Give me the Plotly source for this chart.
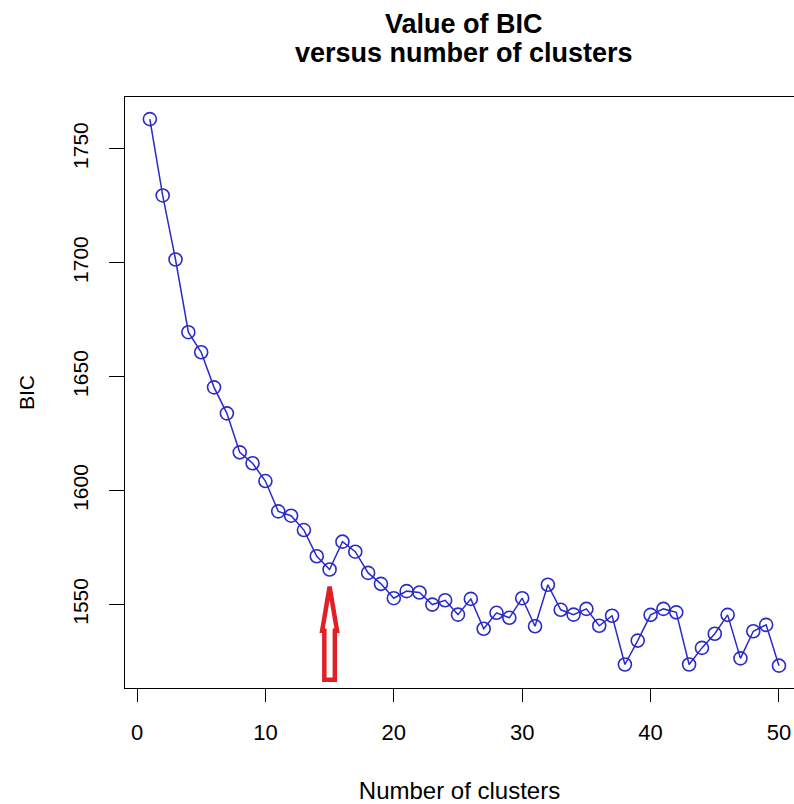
import plotly.graph_objects as go

# ---- data ----
clusters = list(range(1, 51))
bic = [1763.0, 1729.5, 1701.4, 1669.5, 1660.7, 1645.3, 1633.9, 1616.8, 1612.0, 1604.2,
       1590.9, 1589.0, 1582.7, 1571.2, 1565.4, 1577.6, 1573.2, 1563.9, 1559.1, 1552.8,
       1555.9, 1555.3, 1550.0, 1551.9, 1545.6, 1552.5, 1539.4, 1546.4, 1544.2, 1552.8,
       1540.5, 1558.7, 1547.7, 1545.6, 1548.1, 1540.7, 1545.1, 1523.7, 1534.2, 1545.5,
       1548.1, 1546.6, 1523.7, 1531.0, 1537.2, 1545.5, 1526.4, 1538.3, 1541.1, 1523.2]
x_ticks = [0, 10, 20, 30, 40, 50]
y_ticks = [1550, 1600, 1650, 1700, 1750]
title_lines = ["Value of BIC", "versus number of clusters"]

# highlighted choice (arrow)
chosen_k = 15
arrow_tip, arrow_head_base, arrow_bottom = 1557.9, 1538.5, 1517.0
arrow_shaft_half, arrow_head_half = 0.41, 0.58

FONT = "Liberation Sans, Arial, sans-serif"
BLUE = "#2a2ac8"
RED = "#e01f26"

W, H = 794, 804
M_L, M_R, M_T, M_B = 125, 0, 97, 116
PLOT_H = H - M_T - M_B

fig = go.Figure()
fig.add_trace(go.Scatter(
    x=clusters, y=bic, mode="lines+markers",
    line=dict(color=BLUE, width=1.5),
    marker=dict(symbol="circle-open", size=13, color=BLUE, line=dict(width=1.6, color=BLUE)),
    showlegend=False,
))

xa = chosen_k
path = (f"M {xa-arrow_shaft_half},{arrow_bottom} L {xa-arrow_shaft_half},{arrow_head_base} "
        f"L {xa-arrow_head_half},{arrow_head_base} L {xa},{arrow_tip} "
        f"L {xa+arrow_head_half},{arrow_head_base} L {xa+arrow_shaft_half},{arrow_head_base} "
        f"L {xa+arrow_shaft_half},{arrow_bottom} Z")
fig.add_shape(type="path", path=path, xref="x", yref="y",
              line=dict(color=RED, width=4.5), fillcolor="rgba(0,0,0,0)")

# two-line bold title, centred over the plotting region
for txt, py in zip(title_lines, [24, 53]):
    fig.add_annotation(
        text=f"<b>{txt}</b>", xref="paper", yref="paper",
        x=(463.5 - M_L) / (W - M_L - M_R), y=(H - M_B - py) / PLOT_H,
        xanchor="center", yanchor="middle", showarrow=False,
        font=dict(family=FONT, size=27, color="black"),
    )

fig.update_layout(
    width=W, height=H,
    margin=dict(l=M_L, r=M_R, t=M_T, b=M_B),
    paper_bgcolor="white", plot_bgcolor="white",
    font=dict(family=FONT, color="black", size=21),
)
fig.update_xaxes(
    range=[-0.935, 51.17], tickvals=x_ticks, ticktext=[str(v) for v in x_ticks],
    showgrid=False, zeroline=False,
    showline=True, linecolor="black", linewidth=1, mirror=True,
    ticks="outside", ticklen=13, tickcolor="black", tickwidth=1,
    ticklabelstandoff=12,
    tickfont=dict(family=FONT, size=22),
    title=dict(text="Number of clusters", font=dict(family=FONT, size=24), standoff=37),
)
fig.update_yaxes(
    range=[1513.4, 1772.7], tickvals=y_ticks, ticktext=[str(v) for v in y_ticks],
    showgrid=False, zeroline=False,
    showline=True, linecolor="black", linewidth=1, mirror=False,
    ticks="outside", ticklen=15, tickcolor="black", tickwidth=1,
    tickangle=-90, ticklabelstandoff=13,
    tickfont=dict(family=FONT, size=21),
    title=dict(text="BIC", font=dict(family=FONT, size=21), standoff=28),
)

fig.write_html("out.html")
